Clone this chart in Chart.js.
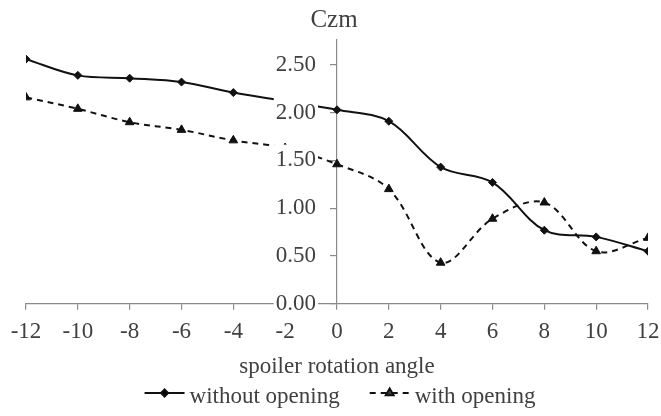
<!DOCTYPE html>
<html>
<head>
<meta charset="utf-8">
<script src="https://cdn.jsdelivr.net/npm/chart.js@4/dist/chart.umd.min.js"></script>
<style>
  html, body { margin: 0; padding: 0; background: #fff; }
  #wrap { width: 661px; height: 416px; }
</style>
</head>
<body>
<div id="wrap"><canvas id="czmChart" width="661" height="416"></canvas></div>
<script>
// spoiler angle (deg) and Czm for both configurations
const angles = [-12, -10, -8, -6, -4, -2, 0, 2, 4, 6, 8, 10, 12];
const withoutOpening = [2.56, 2.39, 2.36, 2.32, 2.21, 2.12, 2.03, 1.91, 1.43, 1.27, 0.77, 0.70, 0.55];
const withOpening = [2.16, 2.04, 1.90, 1.82, 1.71, 1.63, 1.46, 1.20, 0.43, 0.89, 1.06, 0.55, 0.69];
const yTicks = [0, 0.5, 1, 1.5, 2, 2.5];

const FONT = "'Liberation Serif', 'Times New Roman', serif";
const TEXT = "#404040";
const AXIS = "#8a8a8a";

const toPoints = (vals) => vals.map((v, i) => ({ x: angles[i], y: v }));

// "Czm" above the y axis
const yTitlePlugin = {
  id: "yTitle",
  afterDraw(chart) {
    const ctx = chart.ctx;
    const x = chart.scales.x.getPixelForValue(0);
    ctx.save();
    ctx.font = "25px " + FONT;
    ctx.fillStyle = TEXT;
    ctx.textAlign = "center";
    ctx.textBaseline = "alphabetic";
    ctx.fillText("Czm", x - 3, 27);
    ctx.restore();
  },
};

// legend: line sample with marker, then label
const lineLegend = {
  id: "lineLegend",
  afterDraw(chart) {
    const ctx = chart.ctx;
    const items = chart.data.datasets;
    ctx.save();
    ctx.font = "23px " + FONT;
    const sample = 40, gapText = 5, gapItem = 30;
    let total = 0;
    items.forEach((ds, i) => {
      total += sample + gapText + ctx.measureText(ds.label).width;
      if (i < items.length - 1) total += gapItem;
    });
    const area = chart.chartArea;
    let x = (area.left + area.right) / 2 + 3 - total / 2;
    const yLine = 393, yText = 403;
    items.forEach((ds) => {
      ctx.strokeStyle = ds.borderColor;
      ctx.lineWidth = 2;
      ctx.setLineDash(ds.borderDash || []);
      ctx.beginPath();
      ctx.moveTo(x, yLine);
      ctx.lineTo(x + sample, yLine);
      ctx.stroke();
      ctx.setLineDash([]);
      Chart.helpers.drawPoint(ctx, {
        pointStyle: ds.pointStyle,
        radius: ds.pointRadius - 0.5,
        borderWidth: 1,
      }, x + sample / 2, yLine);
      ctx.fillStyle = TEXT;
      ctx.textAlign = "left";
      ctx.textBaseline = "alphabetic";
      ctx.fillText(ds.label, x + sample + gapText, yText);
      x += sample + gapText + ctx.measureText(ds.label).width + gapItem;
    });
    ctx.restore();
  },
};

const ctx = document.getElementById("czmChart").getContext("2d");

new Chart(ctx, {
  type: "line",
  data: {
    datasets: [
      {
        label: "without opening",
        data: toPoints(withoutOpening),
        borderColor: "#111",
        backgroundColor: "#111",
        borderWidth: 2,
        tension: 0.35,
        pointStyle: "rectRot",
        pointRadius: 4,
        pointBorderWidth: 1,
      },
      {
        label: "with opening",
        data: toPoints(withOpening),
        borderColor: "#111",
        backgroundColor: "#111",
        borderWidth: 2,
        borderDash: [6, 5],
        tension: 0.35,
        pointStyle: "triangle",
        pointRadius: 5,
        pointBorderWidth: 1,
      },
    ],
  },
  options: {
    responsive: false,
    animation: false,
    layout: { padding: { top: 40, left: 0, right: 0, bottom: 35 } },
    plugins: {
      legend: { display: false },
      tooltip: { enabled: false },
    },
    scales: {
      x: {
        type: "linear",
        min: -12,
        max: 12,
        afterFit: (scale) => {
          scale.paddingLeft = 26;
          scale.paddingRight = 13;
        },
        ticks: {
          stepSize: 2,
          padding: 8,
          color: TEXT,
          font: { family: FONT, size: 23 },
        },
        grid: { drawOnChartArea: false, tickLength: 6, lineWidth: 1.2, color: AXIS },
        border: { color: AXIS, width: 1.2 },
        title: {
          display: true,
          text: "spoiler rotation angle",
          color: TEXT,
          font: { family: FONT, size: 23 },
          padding: { top: 0, bottom: 0 },
        },
      },
      y: {
        type: "linear",
        // x runs -12..12, so the centre of the plot is angle 0
        position: "center",
        min: 0,
        max: 2.76,
        afterBuildTicks: (axis) => {
          axis.ticks = yTicks.map((v) => ({ value: v }));
        },
        ticks: {
          z: 1,
          padding: 15,
          color: TEXT,
          font: { family: FONT, size: 23 },
          showLabelBackdrop: true,
          backdropColor: "#fff",
          backdropPadding: 2,
          callback: (v) => Number(v).toFixed(2),
        },
        grid: { drawOnChartArea: false, tickLength: 6, lineWidth: 1.2, color: AXIS },
        border: { color: AXIS, width: 1.2 },
      },
    },
  },
  plugins: [yTitlePlugin, lineLegend],
});
</script>
</body>
</html>
